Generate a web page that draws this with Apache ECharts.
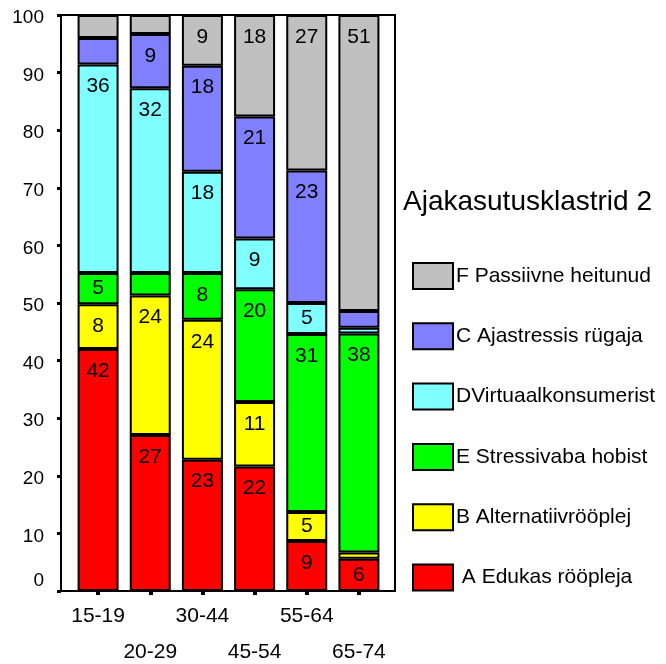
<!DOCTYPE html>
<html>
<head>
<meta charset="utf-8">
<script src="https://cdn.jsdelivr.net/npm/echarts@6/dist/echarts.min.js"></script>
<style>html,body{margin:0;padding:0;background:#fff}#c{width:666px;height:664px}</style>
</head>
<body>
<div id="c"></div>
<script>
const categories = ['15-19', '20-29', '30-44', '45-54', '55-64', '65-74'];
const yTicks = [0, 10, 20, 30, 40, 50, 60, 70, 80, 90, 100];
// stacked from bottom to top
const seriesNames = [' A Edukas rööpleja', 'B Alternatiivrööplej', 'E Stressivaba hobist', 'DVirtuaalkonsumerist', 'C Ajastressis rügaja', 'F Passiivne heitunud'];
const A_edukas      = [42.0, 27.1, 22.8, 21.6,  8.7,  5.6];
const B_alternatiiv = [ 7.8, 24.2, 24.3, 11.2,  5.0,  1.1];
const E_stressivaba = [ 5.4,  3.9,  8.1, 19.6, 30.9, 38.0];
const D_virtuaal    = [36.2, 32.1, 17.6,  8.8,  5.4,  1.0];
const C_ajastress   = [ 4.6,  9.4, 18.4, 21.2, 23.0,  2.9];
const F_passiivne   = [ 4.0,  3.3,  8.8, 17.6, 27.0, 51.4];
const seriesValues = [A_edukas, B_alternatiiv, E_stressivaba, D_virtuaal, C_ajastress, F_passiivne];
const colors = ['#FF0000', '#FFFF00', '#00FF00', '#80FFFF', '#8080FF', '#C0C0C0'];
const legendOrder = ['F Passiivne heitunud', 'C Ajastressis rügaja', 'DVirtuaalkonsumerist', 'E Stressivaba hobist', 'B Alternatiivrööplej', ' A Edukas rööpleja'];
const legendTitle = 'Ajakasutusklastrid 2';

const FONT = '"Liberation Sans", Arial, sans-serif';
const PX_PER_UNIT = 5.76;

const chart = echarts.init(document.getElementById('c'));
const series = seriesNames.map((name, si) => ({
  name: name,
  type: 'bar',
  stack: 'total',
  barWidth: 41,
  itemStyle: { color: colors[si], borderColor: '#000', borderWidth: 2 },
  label: {
    show: false,
    position: 'insideTop',
    color: '#000',
    fontSize: 21,
    fontFamily: FONT,
    formatter: p => String(Math.round(p.value))
  },
  data: seriesValues[si].map(v => {
    const h = v * PX_PER_UNIT;
    const d = Math.max(1, Math.min(22, h / 2) - 10.5);
    return { value: v, label: { show: v >= 4.8, distance: d } };
  })
}));

chart.setOption({
  animation: false,
  textStyle: { fontFamily: FONT },
  grid: { left: 72, right: 281, top: 15, bottom: 73, outerBoundsMode: 'none', containLabel: false },
  title: {
    text: legendTitle, left: 403, top: 188, padding: 0,
    textStyle: { fontSize: 28, fontWeight: 'normal', color: '#000', fontFamily: FONT }
  },
  legend: {
    data: legendOrder,
    orient: 'vertical',
    left: 412, top: 262, padding: 0,
    itemWidth: 40, itemHeight: 26, itemGap: 32.3,
    icon: 'rect',
    selectedMode: false,
    itemStyle: { borderColor: '#000', borderWidth: 2 },
    textStyle: { fontSize: 21, lineHeight: 26, color: '#000', fontFamily: FONT, padding: [0,0,0,-2] }
  },
  xAxis: {
    type: 'category',
    data: categories,
    axisLine: { show: true, lineStyle: { color: '#000', width: 2 } },
    axisTick: { show: true, alignWithLabel: true, length: 4, lineStyle: { color: '#000', width: 4 } },
    axisLabel: {
      interval: 0, margin: 7, fontSize: 21, color: '#000', lineHeight: 36, fontFamily: FONT,
      formatter: (v, i) => (i % 2 ? '\n' + v : v)
    }
  },
  yAxis: {
    type: 'value',
    min: 0, max: 100, interval: 10,
    offset: 11,
    axisLine: { show: true, lineStyle: { color: '#000', width: 2 } },
    axisTick: { show: true, length: 4, lineStyle: { color: '#000', width: 3 } },
    splitLine: { show: false },
    axisLabel: { margin: 17, fontSize: 19, color: '#000', fontFamily: FONT, padding: [6, 0, 0, 0],
      rich: { z: { fontSize: 19, color: '#000', fontFamily: FONT, padding: [0, 0, 26, 0] } },
      formatter: v => (yTicks.indexOf(v) < 0 ? '' : (v === 0 ? '{z|0}' : String(v))) }
  },
  graphic: [{
    type: 'rect', z: 100, silent: true,
    shape: { x: 61, y: 15, width: 334, height: 576 },
    style: { fill: null, stroke: '#000', lineWidth: 2 }
  }],
  series: series
});
</script>
</body>
</html>
